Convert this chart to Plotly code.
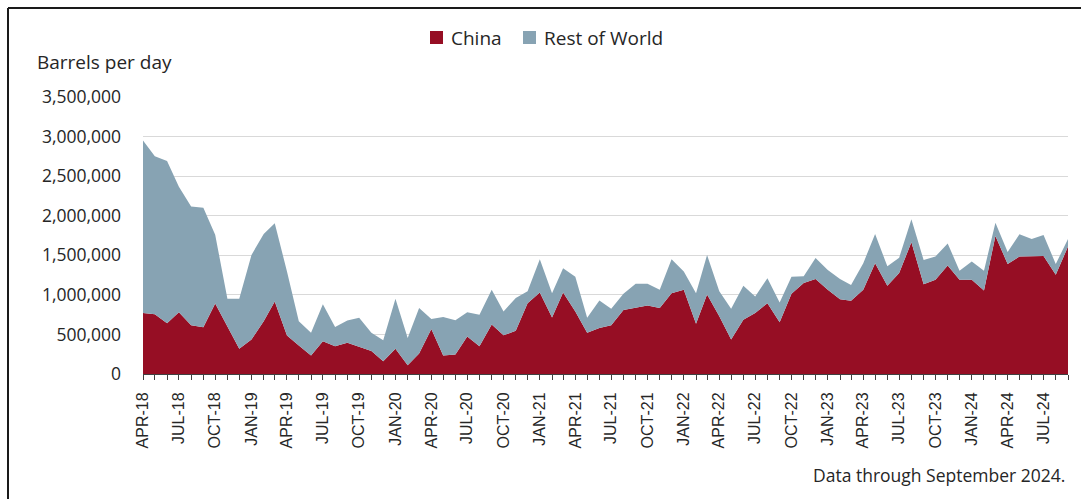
import pandas as pd
import plotly.graph_objects as go

# Months: April 2018 through September 2024
months = pd.date_range("2018-04-01", periods=78, freq="MS")
month_labels = [d.strftime("%b-%y").upper() for d in months]

# Crude oil exports, barrels per day
china = [770000, 755000, 640000, 780000, 615000, 590000, 890000, 600000, 320000, 435000,
         665000, 915000, 485000, 360000, 235000, 415000, 350000, 395000, 345000, 290000,
         160000, 320000, 110000, 260000, 570000, 235000, 245000, 475000, 350000, 625000,
         490000, 545000, 895000, 1030000, 715000, 1030000, 790000, 520000, 580000, 615000,
         810000, 840000, 865000, 835000, 1020000, 1065000, 635000, 1005000, 730000, 435000,
         685000, 770000, 895000, 655000, 1015000, 1150000, 1200000, 1065000, 945000, 925000,
         1065000, 1400000, 1115000, 1275000, 1665000, 1135000, 1190000, 1370000, 1190000, 1190000,
         1055000, 1745000, 1390000, 1485000, 1485000, 1490000, 1255000, 1610000]
rest_of_world = [2180000, 1995000, 2050000, 1585000, 1500000, 1510000, 870000, 350000, 630000, 1070000,
                 1105000, 990000, 810000, 305000, 285000, 465000, 245000, 280000, 365000, 230000,
                 265000, 630000, 345000, 575000, 125000, 485000, 435000, 305000, 400000, 440000,
                 300000, 415000, 150000, 420000, 305000, 305000, 440000, 190000, 350000, 210000,
                 205000, 300000, 275000, 230000, 430000, 230000, 385000, 500000, 315000, 390000,
                 430000, 210000, 315000, 250000, 215000, 85000, 265000, 250000, 255000, 200000,
                 335000, 370000, 245000, 195000, 290000, 305000, 295000, 280000, 115000, 230000,
                 250000, 165000, 150000, 280000, 220000, 265000, 135000, 95000]

series_names = ["China", "Rest of World"]
y_tick_values = [0, 500000, 1000000, 1500000, 2000000, 2500000, 3000000, 3500000]

COL_CHINA = "#960E24"
COL_ROW = "#87A3B3"
FONT = "Open Sans"
TXT = "#262626"

W, H = 1081, 499
ML, MR, MT, MB = 143, 13, 97, 125
PW, PH = W - ML - MR, H - MT - MB

def px_x(px):
    return (px - ML) / PW

def px_y(py):
    return (H - MB - py) / PH

fig = go.Figure()
fig.add_trace(go.Scatter(x=months, y=china, name=series_names[0], stackgroup="one",
                         mode="lines", line=dict(width=0, color=COL_CHINA),
                         fillcolor=COL_CHINA, showlegend=False))
fig.add_trace(go.Scatter(x=months, y=rest_of_world, name=series_names[1], stackgroup="one",
                         mode="lines", line=dict(width=0, color=COL_ROW),
                         fillcolor=COL_ROW, showlegend=False))

tickvals = list(months[::3])
ticktext = month_labels[::3]

# Legend drawn as swatches + text (square swatches like the original)
legend_items = [(series_names[0], COL_CHINA, 430, 449), (series_names[1], COL_ROW, 523, 542)]
legend_shapes = []
legend_annots = []
for name, col, sx, tx in legend_items:
    legend_shapes.append(dict(type="rect", xref="paper", yref="paper",
                              x0=px_x(sx), x1=px_x(sx + 13), y0=px_y(31), y1=px_y(44),
                              fillcolor=col, line=dict(width=0)))
    legend_annots.append(dict(text=name, xref="paper", yref="paper", x=px_x(tx), y=px_y(38),
                              xanchor="left", yanchor="middle", showarrow=False,
                              font=dict(family=FONT, size=19, color=TXT)))

fig.update_layout(
    width=W, height=H,
    margin=dict(l=ML, r=MR, t=MT, b=MB, pad=0),
    paper_bgcolor="white", plot_bgcolor="white",
    font=dict(family=FONT, color=TXT, size=18),
    showlegend=False,
    xaxis=dict(
        type="date", range=[months[0], months[-1]],
        tickmode="array", tickvals=tickvals, ticktext=ticktext,
        tickangle=-90, tickfont=dict(family="Liberation Sans", size=16, color=TXT),
        ticks="outside", ticklen=5, tickwidth=1, tickcolor="#404040",
        minor=dict(dtick="M1", ticks="outside", ticklen=5, tickwidth=1, tickcolor="#404040", showgrid=False),
        showline=True, linecolor="#404040", linewidth=1,
        showgrid=False, zeroline=False, ticklabelstandoff=6,
    ),
    yaxis=dict(
        range=[0, 3500000], tickmode="array", tickvals=y_tick_values,
        tickformat=",d", tickfont=dict(family=FONT, size=17.5, color=TXT),
        showgrid=True, gridcolor="#D9D9D9", gridwidth=1,
        zeroline=False, showline=False, ticks="", ticklabelstandoff=21,
    ),
    annotations=[
        dict(text="Barrels per day", xref="paper", yref="paper", x=px_x(35), y=px_y(62),
             xanchor="left", yanchor="middle", showarrow=False,
             font=dict(family=FONT, size=19, color=TXT)),
        dict(text="Data through September 2024.", xref="paper", yref="paper", x=px_x(1067), y=px_y(475),
             xanchor="right", yanchor="middle", showarrow=False,
             font=dict(family=FONT, size=17.5, color=TXT)),
    ] + legend_annots,
    shapes=[
        dict(type="line", xref="paper", yref="paper", x0=px_x(8), x1=px_x(8), y0=px_y(8), y1=px_y(505),
             line=dict(color="#1a1a1a", width=2)),
        dict(type="line", xref="paper", yref="paper", x0=px_x(8), x1=px_x(1090), y0=px_y(8), y1=px_y(8),
             line=dict(color="#1a1a1a", width=2)),
    ] + legend_shapes,
)

fig.write_html("out.html")
